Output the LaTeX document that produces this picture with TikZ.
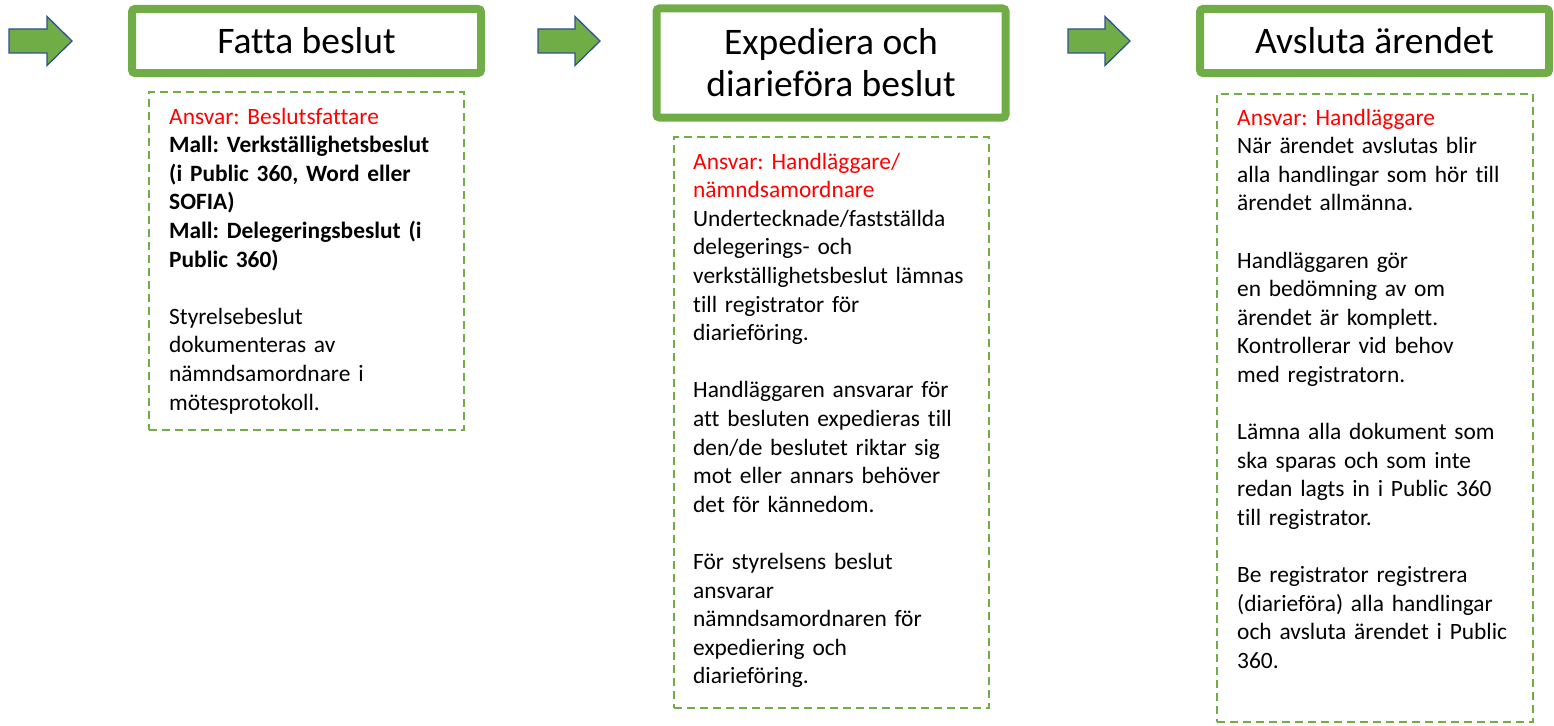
\documentclass[tikz,border=0pt]{standalone}
\usepackage{fontspec}
\setmainfont{Carlito}[Ligatures=NoCommon]
\frenchspacing
\definecolor{gr}{HTML}{70AD47}
\definecolor{bl}{HTML}{2F528F}
\definecolor{rd}{HTML}{FF0000}
\begin{document}
\begin{tikzpicture}[x=1pt,y=-1pt,
  titlebox/.style={draw=gr, line width=8pt, rounded corners=3pt, fill=white, minimum width=349pt, align=center, inner sep=0pt, font=\fontsize{37.5}{42}\selectfont\frenchspacing},
  notebox/.style={draw=gr, line width=1.8pt, dash pattern=on 8pt off 5pt, minimum width=315pt, inner sep=0pt},
  bodytext/.style={anchor=base west, inner sep=0pt, text width=300pt, align=left, font=\fontsize{23.4}{28.6}\selectfont\frenchspacing},
  blockarrow/.style={fill=gr, draw=bl, line width=1.3pt, line join=miter}]
\useasboundingbox (0,0) rectangle (1554,725);
% arrows
\foreach \x/\h/\t in {9/47/72, 538/575/600, 1068/1105/1130}{
  \draw[blockarrow] (\x,29) -- (\h,29) -- (\h,16.5) -- (\t,41) -- (\h,65.5) -- (\h,53) -- (\x,53) -- cycle;
}
% title boxes
\node[titlebox, minimum height=64pt] (t1) at (306.5,41) {Fatta beslut};
\node[titlebox, minimum height=109pt] (t2) at (831,63) {Expediera och\\diarieföra beslut};
\node[titlebox, minimum height=64pt] (t3) at (1374.5,41) {Avsluta ärendet};
% note boxes
\node[notebox, minimum height=338pt] (n1) at (306.5,261) {};
\node[notebox, minimum height=571pt] (n2) at (831.5,422.5) {};
\node[notebox, minimum width=316pt, minimum height=628pt] (n3) at (1375,408) {};
% texts
\node[bodytext] (b1) at (169,124) {\textcolor{rd}{Ansvar: Beslutsfattare}\\
\textbf{Mall: Verkställighetsbeslut}\\
\textbf{(i Public 360, Word eller}\\
\textbf{SOFIA)}\\
\textbf{Mall: Delegeringsbeslut (i}\\
\textbf{Public 360)}\\[28.6pt]
Styrelsebeslut\\
dokumenteras av\\
nämndsamordnare i\\
mötesprotokoll.};
\node[bodytext] (b2) at (693,169) {\textcolor{rd}{Ansvar: Handläggare/}\\
\textcolor{rd}{nämndsamordnare}\\
Undertecknade/fastställda\\
delegerings- och\\
verkställighetsbeslut lämnas\\
till registrator för\\
diarieföring.\\[28.6pt]
Handläggaren ansvarar för\\
att besluten expedieras till\\
den/de beslutet riktar sig\\
mot eller annars behöver\\
det för kännedom.\\[28.6pt]
För styrelsens beslut\\
ansvarar\\
nämndsamordnaren för\\
expediering och\\
diarieföring.};
\node[bodytext] (b3) at (1237,125) {\textcolor{rd}{Ansvar: Handläggare}\\
När ärendet avslutas blir\\
alla handlingar som hör till\\
ärendet allmänna.\\[28.6pt]
Handläggaren gör\\
en bedömning av om\\
ärendet är komplett.\\
Kontrollerar vid behov\\
med registratorn.\\[28.6pt]
Lämna alla dokument som\\
ska sparas och som inte\\
redan lagts in i Public 360\\
till registrator.\\[28.6pt]
Be registrator registrera\\
(diarieföra) alla handlingar\\
och avsluta ärendet i Public\\
360.};
\end{tikzpicture}
\end{document}
